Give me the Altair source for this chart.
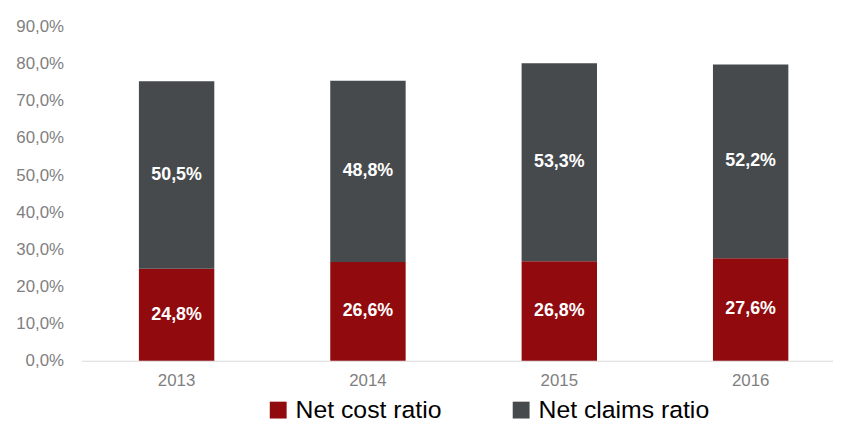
import altair as alt
import pandas as pd

years = ["2013", "2014", "2015", "2016"]
net_cost = [24.8, 26.6, 26.8, 27.6]
net_claims = [50.5, 48.8, 53.3, 52.2]
series = ["Net cost ratio", "Net claims ratio"]
colors = ["#910A0E", "#464A4D"]
y_ticks = [0.0, 0.1, 0.2, 0.3, 0.4, 0.5, 0.6, 0.7, 0.8, 0.9]

rows = []
for i, y in enumerate(years):
    rows.append({"year": y, "series": series[0], "value": net_cost[i] / 100, "ord": 0,
                 "label": f"{net_cost[i]:.1f}%".replace(".", ",")})
    rows.append({"year": y, "series": series[1], "value": net_claims[i] / 100, "ord": 1,
                 "label": f"{net_claims[i]:.1f}%".replace(".", ",")})
df = pd.DataFrame(rows)

base = alt.Chart(df).transform_stack(
    stack="value", groupby=["year"], as_=["v0", "v1"],
    sort=[alt.SortField("ord", order="ascending")]
).transform_calculate(mid="(datum.v0 + datum.v1) / 2")

xscale = alt.Scale(paddingInner=0.606, paddingOuter=0.267, align=0.563)
yscale = alt.Scale(domain=[0, 0.9], nice=False)

xaxis = alt.Axis(labelAngle=0, labelFont="Liberation Sans", labelFontSize=17,
                 labelColor="#7F7F7F", ticks=False, tickSize=0, labelPadding=12,
                 domainColor="#D9D9D9", domainWidth=1)
yaxis = alt.Axis(values=y_ticks, tickCount=10,
                 labelExpr="replace(format(datum.value, '.1%'), '.', ',')",
                 labelFont="Liberation Sans", labelFontSize=17, labelColor="#7F7F7F",
                 labelOverlap=False, labelBound=False, labelFlush=False,
                 grid=False, domain=False, ticks=False, tickSize=0, labelPadding=18)

bars = base.mark_bar().encode(
    x=alt.X("year:N", title=None, sort=years, scale=xscale, axis=xaxis),
    y=alt.Y("v0:Q", title=None, scale=yscale, axis=yaxis),
    y2="v1:Q",
    color=alt.Color("series:N", sort=series,
                    scale=alt.Scale(domain=series, range=colors),
                    legend=alt.Legend(title=None, orient="none", direction="horizontal",
                                      legendX=186, legendY=374,
                                      symbolType="square", symbolSize=289,
                                      symbolStrokeWidth=0, symbolOpacity=1,
                                      labelFont="Liberation Sans", labelFontSize=25,
                                      labelColor="#000000", labelOffset=5,
                                      labelLimit=400, columnPadding=67)),
)

text = base.mark_text(font="Liberation Sans", fontSize=18, fontWeight="bold",
                      color="white").encode(
    x=alt.X("year:N", title=None, sort=years, scale=xscale, axis=xaxis),
    y=alt.Y("mid:Q", title=None, scale=yscale, axis=yaxis),
    text="label:N",
)

chart = alt.layer(bars, text).properties(
    width=758, height=337,
    autosize=alt.AutoSizeParams(type="none"),
    padding={"left": 74, "top": 17, "right": 0, "bottom": 60},
).configure_view(stroke=None)

chart.save("out.html", embed_options={"renderer": "svg", "actions": False})
